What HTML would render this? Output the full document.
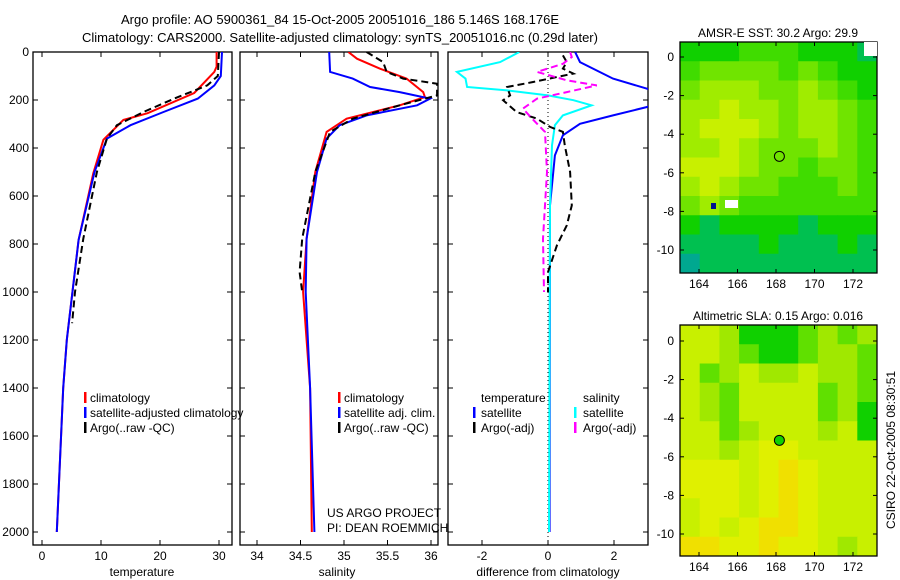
<!DOCTYPE html>
<html><head><meta charset="utf-8"><style>
html,body{margin:0;padding:0;background:#fff;}
svg{display:block;font-family:"Liberation Sans",sans-serif;}
</style></head><body>
<svg id="fig" width="900" height="580" viewBox="0 0 900 580">
<defs>
<clipPath id="c1"><rect x="33" y="52" width="199" height="493"/></clipPath>
<clipPath id="c2"><rect x="240" y="52" width="198" height="493"/></clipPath>
<clipPath id="c3"><rect x="448" y="52" width="200" height="493"/></clipPath>
</defs>
<text x="340" y="24" font-size="13" text-anchor="middle">Argo profile: AO 5900361_84 15-Oct-2005 20051016_186 5.146S 168.176E</text>
<text x="340" y="42" font-size="13" text-anchor="middle">Climatology: CARS2000. Satellite-adjusted climatology: synTS_20051016.nc (0.29d later)</text>
<g id="g"></g>
</svg>
<script>
// ---- data ----
const tClimDepth=[0,61,83,171,255,283,366,505,783,1200,1400,2000];
const tClim=[29.6,29.6,29.2,25.8,17.9,13.8,10.4,8.7,6.2,4.2,3.6,2.5];
const tSatDepth=[0,100,139,194,250,305,361,500,783,1200,1400,2000];
const tSat=[30.5,30.3,29.2,26.4,20.6,15.0,11.0,8.9,6.2,4.2,3.6,2.5];
const tArgoDepth=[0,100,139,194,250,305,361,500,778,1000,1130];
const tArgo=[30.0,29.8,28.0,22.4,17.2,12.7,11.0,9.3,7.0,5.6,5.1];
const sSatDepth=[0,83,111,146,167,194,222,264,305,361,500,778,1000,1400,2000];
const sSat=[34.83,34.84,35.10,35.30,35.64,35.99,35.84,35.26,34.95,34.80,34.69,34.57,34.56,34.61,34.66];
const sClimDepth=[0,28,69,111,167,188,222,278,333,500,778,1000,1400,2000];
const sClim=[35.05,35.15,35.41,35.72,35.91,35.93,35.64,35.03,34.80,34.67,34.57,34.53,34.61,34.63];
const sArgoDepth=[0,42,83,111,132,181,222,278,333,500,778,917,1000];
const sArgo=[35.26,35.45,35.49,35.68,36.07,36.07,35.64,35.10,34.84,34.67,34.52,34.49,34.52];
const dTSatDepth=[0,42,111,153,190,229,264,299,347,431,639,2000];
const dTSat=[0.82,0.97,1.97,3.0,3.6,3.0,1.97,0.97,0.45,0.21,0.06,0.05];
const dSSatDepth=[0,42,83,111,146,160,181,201,222,264,305,389,639,2000];
const dSSat=[-0.87,-1.45,-2.76,-2.5,-2.45,-1.24,0,0.77,1.32,0.45,0.21,0.12,0.06,0.03];
const dTArgoDepth=[14,42,69,90,125,146,181,201,250,278,312,333,389,500,639,722,806,917,1000];
const dTArgo=[0.45,0.57,0.45,0.77,-0.45,-1.24,-1.15,-1.36,-0.95,-0.33,0.06,0.45,0.51,0.67,0.72,0.57,0.27,0,0];
const dSArgoDepth=[0,21,49,83,118,139,167,194,236,278,333,500,778,1000];
const dSArgo=[0.67,0.72,0.45,-0.33,0.57,1.48,0.57,-0.33,-0.76,-0.48,-0.09,-0.03,-0.15,-0.12];
const depthTicks=[0,200,400,600,800,1000,1200,1400,1600,1800,2000];
const tempTicks=[0,10,20,30];
const salTicks=[34,34.5,35,35.5,36];
const salTickLabels=["34","34.5","35","35.5","36"];
const diffTicks=[-2,0,2];
const diffTickLabels=["-2","0","2"];
const lonTicks=[164,166,168,170,172];
const latTicks=[0,-2,-4,-6,-8,-10];
const sstGrid=[
[2,2,2,3,3,3,2,2,2,1],
[3,4,4,4,4,3,4,3,2,2],
[4,5,5,5,4,4,5,4,3,2],
[5,5,6,5,5,4,5,5,4,3],
[5,6,6,6,5,4,5,5,4,3],
[5,5,6,5,4,4,4,5,4,3],
[6,6,6,5,4,4,3,4,4,3],
[5,6,5,4,4,3,3,3,4,3],
[4,5,4,3,3,3,3,3,3,3],
[2,1,2,2,2,2,1,2,2,2],
[1,1,1,1,2,1,1,1,2,1],
[0,1,1,1,1,1,1,1,1,1]];
const slaGrid=[
[3,3,2,0,0,0,1,2,1,2],
[3,3,2,1,0,0,1,2,2,1],
[3,1,2,3,2,2,3,2,2,1],
[3,2,1,3,3,3,3,1,2,1],
[3,2,1,3,3,3,3,1,2,0],
[3,3,1,2,3,3,3,2,3,0],
[3,3,2,3,4,4,3,3,3,3],
[4,4,4,3,4,5,4,3,3,3],
[4,4,4,3,4,5,4,3,3,3],
[3,4,4,3,4,5,4,3,3,3],
[3,4,3,4,5,5,4,3,3,3],
[5,5,4,4,5,4,4,3,2,3]];
const argoLon=168.176, argoLat=-5.146;

// ---- helpers ----
const NS="http://www.w3.org/2000/svg";
const G=document.getElementById('g');
function mk(tag,attrs,parent){const e=document.createElementNS(NS,tag);for(const k in attrs)e.setAttribute(k,attrs[k]);(parent||G).appendChild(e);return e;}
const yD=d=>52+d*0.24;
const xT=v=>42+v*5.9;
const xS=v=>257+(v-34)*87;
const xDf=v=>548+v*33;

function series(xs,ds,fx,color,dash,clip,name){
  const pts=xs.map((v,i)=>fx(v).toFixed(1)+','+yD(ds[i]).toFixed(1)).join(' ');
  const p=mk('polyline',{points:pts,fill:'none',stroke:color,'stroke-width':2,'clip-path':'url(#'+clip+')'});
  if(dash)p.setAttribute('stroke-dasharray','7,4');
  
  
}
function frame(x0,x1,name){
  const r=mk('rect',{x:x0,y:52,width:x1-x0,height:493,fill:'none',stroke:'#000','stroke-width':1.3});
  
  
}
function xticks(vals,labels,fx,labelName){
  vals.forEach((v,i)=>{
    const x=fx(v);
    mk('line',{x1:x,y1:545,x2:x,y2:540,stroke:'#000'});
    mk('line',{x1:x,y1:52,x2:x,y2:57,stroke:'#000'});
    const t=mk('text',{x:x,y:560,'font-size':12,'text-anchor':'middle'});t.textContent=labels[i];
    
    
  });
}
function yticks(x0,x1){depthTicks.forEach(d=>{const y=yD(d);mk('line',{x1:x0,y1:y,x2:x0+5,y2:y,stroke:'#000'});mk('line',{x1:x1,y1:y,x2:x1-5,y2:y,stroke:'#000'});});}
function txt(x,y,s,name,size,anchor){const t=mk('text',{x:x,y:y,'font-size':size||12,'text-anchor':anchor||'start'});t.textContent=s;return t;}
function mark(x,y,color){mk('rect',{x:x,y:y-10,width:2.5,height:11,fill:color});}

// ---- panel 1 ----
frame(33,232,'temperature-panel');
yticks(33,232);
depthTicks.forEach(d=>{txt(29,yD(d)+4,String(d),'depth-tick-label',12,'end');});
xticks(tempTicks,tempTicks.map(String),xT,'temperature-tick-label');
series(tClim,tClimDepth,xT,'#ff0000',false,'c1','temp-climatology-line');
series(tSat,tSatDepth,xT,'#0000ff',false,'c1','temp-satellite-line');
series(tArgo,tArgoDepth,xT,'#000',true,'c1','temp-argo-line');
txt(142,576,'temperature','x-axis-title-temperature',12,'middle');
mark(84,402,'#f00');txt(90,402,'climatology','legend-climatology');
mark(84,417,'#00f');txt(90,417,'satellite-adjusted climatology','legend-satellite-adjusted');
mark(84,432,'#000');txt(90,432,'Argo(..raw -QC)','legend-argo');

// ---- panel 2 ----
frame(240,438,'salinity-panel');
yticks(240,438);
xticks(salTicks,salTickLabels,xS,'salinity-tick-label');
series(sClim,sClimDepth,xS,'#ff0000',false,'c2','sal-climatology-line');
series(sSat,sSatDepth,xS,'#0000ff',false,'c2','sal-satellite-line');
series(sArgo,sArgoDepth,xS,'#000',true,'c2','sal-argo-line');
txt(337,576,'salinity','x-axis-title-salinity',12,'middle');
mark(338,402,'#f00');txt(344,402,'climatology','legend-sal-climatology');
mark(338,417,'#00f');txt(344,417,'satellite adj. clim.','legend-sal-satellite');
mark(338,432,'#000');txt(344,432,'Argo(..raw -QC)','legend-sal-argo');
txt(327,517,'US ARGO PROJECT','project-credit');
txt(327,532,'PI: DEAN ROEMMICH','pi-credit');

// ---- panel 3 ----
frame(448,648,'difference-panel');
yticks(448,648);
xticks(diffTicks,diffTickLabels,xDf,'difference-tick-label');
mk('line',{x1:548,y1:52,x2:548,y2:545,stroke:'#000','stroke-width':1,'stroke-dasharray':'1,3'});
series(dTSat,dTSatDepth,xDf,'#0000ff',false,'c3','diff-temp-satellite-line');
series(dSSat,dSSatDepth,xDf,'#00ffff',false,'c3','diff-sal-satellite-line');
series(dTArgo,dTArgoDepth,xDf,'#000',true,'c3','diff-temp-argo-line');
series(dSArgo,dSArgoDepth,xDf,'#ff00ff',true,'c3','diff-sal-argo-line');
txt(548,576,'difference from climatology','x-axis-title-difference',12,'middle');
txt(481,402,'temperature','legend-header-temperature');
txt(583,402,'salinity','legend-header-salinity');
mark(473,417,'#00f');txt(481,417,'satellite','legend-diff-temp-satellite');
mark(473,432,'#000');txt(481,432,'Argo(-adj)','legend-diff-temp-argo');
mark(574,417,'#0ff');txt(583,417,'satellite','legend-diff-sal-satellite');
mark(574,432,'#f0f');txt(583,432,'Argo(-adj)','legend-diff-sal-argo');

// ---- maps ----
const sstColors=['#00a890','#00c050','#10d000','#40dc00','#70e400','#a0ec00','#c8f000'];
const slaColors=['#10d000','#60e000','#a0e800','#c8f000','#e0f000','#f0e000'];
function map(grid,colors,top,zeroY,title,name,dotFill){
  const x0=680,x1=877,bottom=top+231;
  const lx=v=>699+(v-164)*19.25;
  const ly=v=>zeroY-v*19.3;
  const rows=grid.length,cols=grid[0].length;
  const cw=(x1-x0)/cols,ch=(bottom-top)/rows;
  grid.forEach((row,r)=>row.forEach((v,c)=>{
    const cell=mk('rect',{x:x0+c*cw,y:top+r*ch,width:cw+0.5,height:ch+0.5,fill:colors[v]});
    
    
  }));
  const fr=mk('rect',{x:x0,y:top,width:x1-x0,height:bottom-top,fill:'none',stroke:'#000','stroke-width':1.3});
  
  
  lonTicks.forEach(v=>{const x=lx(v);mk('line',{x1:x,y1:bottom,x2:x,y2:bottom-4,stroke:'#000'});mk('line',{x1:x,y1:top,x2:x,y2:top+4,stroke:'#000'});
    txt(x,bottom+15,String(v),name+'-lon-label',12,'middle');});
  latTicks.forEach(v=>{const y=ly(v);mk('line',{x1:x0,y1:y,x2:x0+4,y2:y,stroke:'#000'});mk('line',{x1:x1,y1:y,x2:x1-4,y2:y,stroke:'#000'});
    txt(674,y+4,String(v),name+'-lat-label',12,'end');});
  const c=mk('circle',{cx:lx(argoLon),cy:ly(argoLat),r:5,fill:dotFill,stroke:'#000','stroke-width':1});
  
  
  txt(778,top-5,title,name+'-title',12,'middle');
}
map(sstGrid,sstColors,42,57,'AMSR-E SST: 30.2 Argo: 29.9','sst-map','none');
mk('rect',{x:864,y:42,width:13,height:14,fill:'#fff'});
mk('rect',{x:725,y:200,width:13,height:8,fill:'#fff'});
mk('rect',{x:711,y:203,width:5,height:6,fill:'#001090'});
map(slaGrid,slaColors,325,341,'Altimetric SLA: 0.15 Argo: 0.016','sla-map','#10d000');
const ts=mk('text',{x:0,y:0,'font-size':12,'text-anchor':'middle',transform:'translate(895,450) rotate(-90)'});
ts.textContent='CSIRO 22-Oct-2005 08:30:51';


</script>
</body></html>
